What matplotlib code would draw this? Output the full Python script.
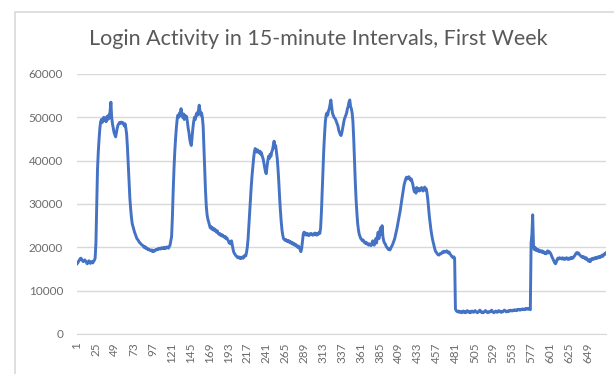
import numpy as np
import matplotlib.pyplot as plt
from matplotlib.patches import Rectangle

plt.rcParams['font.family'] = ["Lato", "DejaVu Sans"]

# logins per 15-minute interval, one list per day (96 intervals each)
day1 = [16200, 16400, 16800, 17000, 17400, 17500, 17200, 16900, 16700, 17000, 17100, 16800,
        16500, 16200, 16600, 16900, 16500, 16300, 16700, 16600, 16400, 16800, 17000, 17500,
        21000, 30000, 38000, 42000, 45000, 47500, 49000, 49500, 48800, 49600, 50000, 49200,
        49800, 49000, 50200, 49500, 50500, 49800, 51500, 53500, 50000, 48500, 47500, 46500,
        46000, 45500, 46500, 47500, 48200, 48500, 48800, 48600, 48900, 48700, 48800, 48500,
        48000, 48500, 47500, 46000, 43000, 39000, 35000, 31500, 29000, 27000, 25500, 24800,
        24000, 23500, 23000, 22500, 22000, 21800, 21500, 21200, 21000, 20800, 20600, 20500,
        20300, 20000, 20200, 19800, 19900, 19600, 19700, 19400, 19500, 19300, 19200, 19400]
day2 = [19000, 19200, 19100, 19300, 19500, 19400, 19600, 19500, 19800, 19700, 19600, 19900,
        19700, 19800, 20000, 19700, 19900, 19800, 20100, 20000, 19800, 20200, 20500, 21500,
        22500, 27000, 33000, 38000, 42000, 45000, 47500, 49500, 50500, 50000, 51000, 50500,
        52000, 50500, 50000, 50800, 49500, 50500, 49800, 50200, 49000, 47500, 46500, 45000,
        44000, 43500, 45500, 47500, 49000, 50000, 49500, 50500, 51000, 50500, 51500, 52800,
        51500, 50500, 51000, 50000, 48000, 43000, 38000, 33000, 29500, 27500, 26500, 25800,
        25000, 24500, 24800, 24200, 24500, 24000, 24300, 23800, 24000, 23500, 23800, 23300,
        23000, 23200, 22800, 23000, 22600, 22800, 22500, 22300, 22500, 22000, 22200, 21800]
day3 = [21500, 21000, 21200, 20800, 21500, 20500, 19500, 18800, 18500, 18200, 18000, 17800,
        17600, 17800, 17500, 17700, 17400, 17600, 17800, 17500, 17900, 18200, 18000, 18800,
        20000, 22000, 25000, 28000, 31000, 34000, 36500, 38500, 40500, 42000, 42800, 42500,
        42000, 42500, 42000, 41800, 42200, 41500, 41800, 41000, 40500, 39500, 38500, 37500,
        37000, 38500, 40000, 41000, 40500, 41500, 41000, 42000, 42500, 43500, 44500, 43000,
        43500, 42000, 40500, 38000, 35000, 31500, 28500, 26000, 24000, 22800, 22000, 21800,
        21600, 21800, 21500, 21300, 21600, 21200, 21400, 21000, 21200, 20800, 21000, 20600,
        20800, 20400, 20600, 20200, 20000, 20300, 19800, 19500, 19000, 19800, 21500, 23000]
day4 = [23500, 23000, 23300, 22800, 23200, 23000, 22700, 23100, 22900, 23200, 23000, 22800,
        23100, 22900, 23300, 23000, 22800, 23200, 23000, 23400, 23200, 24500, 28000, 33000,
        38000, 42500, 46000, 49000, 50500, 51000, 50500, 51500, 52000, 53000, 54000, 52500,
        51000, 50500, 50000, 49800, 49500, 49000, 48500, 48000, 47000, 46500, 46000, 45800,
        46500, 47500, 48500, 49500, 50000, 50500, 51000, 52000, 52500, 53500, 54000, 52500,
        52000, 51000, 49000, 45000, 40000, 35000, 31000, 28000, 25500, 24000, 23000, 22500,
        22000, 21800, 21500, 21700, 21300, 21000, 21200, 20800, 21000, 20700, 20500, 20800,
        20600, 20400, 20800, 21500, 21000, 20500, 21200, 22000, 21000, 22500, 23500, 22000]
day5 = [23500, 24500, 23000, 25000, 22500, 21500, 21000, 20800, 20300, 20000, 19800, 19500,
        19600, 19400, 19800, 20200, 20500, 21000, 21500, 22000, 22800, 23500, 24500, 25500,
        26500, 27500, 28500, 29800, 31000, 32200, 33500, 34500, 35200, 35800, 36200, 35800,
        36000, 36300, 35800, 35500, 35800, 35200, 34500, 33500, 32800, 33500, 32500, 33800,
        33200, 33600, 33000, 33500, 33200, 33800, 33400, 33000, 33600, 33900, 33200, 33500,
        32500, 31000, 29000, 27000, 25500, 24000, 22800, 21800, 21000, 20200, 19500, 19000,
        18800, 18500, 18300, 18200, 18400, 18600, 18500, 18800, 19000, 18800, 19100, 19000,
        18900, 19200, 19000, 18700, 18900, 18500, 18300, 18000, 17800, 17600, 17800, 17500]
day6 = [5800, 5400, 5200, 5100, 5300, 5000, 5200, 5100, 4900, 5200, 5300, 5000,
        5100, 4900, 5200, 5400, 5100, 5000, 5200, 4900, 5100, 5300, 5100, 5000,
        5200, 5400, 5200, 5000, 4900, 5100, 5300, 5500, 5200, 5000, 5100, 4900,
        5000, 5200, 5400, 5300, 5100, 4900, 5000, 5200, 5100, 5300, 5500, 5200,
        5000, 4900, 5100, 5300, 5200, 5000, 5200, 5400, 5300, 5100, 5000, 5200,
        5100, 5300, 5500, 5400, 5200, 5100, 5300, 5200, 5400, 5300, 5500, 5400,
        5300, 5500, 5400, 5600, 5500, 5400, 5600, 5500, 5700, 5600, 5500, 5700,
        5600, 5800, 5700, 5600, 5800, 5700, 5900, 5800, 5700, 5900, 5800, 5600]
day7 = [21000, 23000, 27500, 20500, 19500, 20000, 19300, 19600, 19200, 19500, 19000, 19300,
        19100, 18900, 19200, 18800, 19000, 18600, 18800, 18500, 18900, 19200, 18700, 19000,
        18800, 18500, 18000, 17600, 17200, 16800, 16400, 16200, 16600, 17200, 17500, 17300,
        17600, 17400, 17500, 17300, 17600, 17400, 17200, 17500, 17300, 17600, 17400, 17200,
        17500, 17300, 17600, 17400, 17700, 17500, 17800, 18000, 18300, 18600, 18800, 18500,
        18700, 18400, 18200, 18000, 17800, 17900, 17600, 17800, 17500, 17300, 17600, 17200,
        17000, 16800, 17200, 16700, 17100, 17400, 17200, 17500, 17300, 17600, 17400, 17700,
        17500, 17800, 17600, 17900, 17700, 18000, 18200, 17900, 18300, 18500, 18400, 18700]

logins = day1 + day2 + day3 + day4 + day5 + day6 + day7
intervals = np.arange(1, len(logins) + 1)
tick_labels = list(range(1, len(logins), 24))
y_ticks = [0, 10000, 20000, 30000, 40000, 50000, 60000]

grey_text = "#6b6b6b"

fig = plt.figure(figsize=(6.14, 3.74), dpi=100)
# chart border (cropped at right and bottom in the reference)
fig.patches.append(Rectangle((15 / 614, -0.1), 1.0, 1.1 - 12 / 374, transform=fig.transFigure,
                             facecolor="none", edgecolor="#d9d9d9", lw=1.2))

ax = fig.add_axes([77 / 614, 1 - 334 / 374, 529 / 614, 260 / 374])
ax.plot(intervals, logins, color="#4472C4", lw=2.1, solid_joinstyle="round")

ax.set_xlim(1, len(logins))
ax.set_ylim(0, 60000)
ax.set_yticks(y_ticks)
ax.set_yticklabels([str(v) for v in y_ticks])
ax.set_xticks(tick_labels)
ax.set_xticklabels([str(v) for v in tick_labels], rotation=90)
ax.tick_params(axis="y", length=0, pad=10, labelsize=8.5, labelcolor=grey_text)
ax.tick_params(axis="x", length=0, pad=6, labelsize=8.5, labelcolor=grey_text)
ax.grid(axis="y", color="#d9d9d9", lw=1)
ax.set_axisbelow(True)
for s in ["top", "right", "left"]:
    ax.spines[s].set_visible(False)
ax.spines["bottom"].set_color("#d9d9d9")

fig.text(318 / 614, 1 - 45 / 374, "Login Activity in 15-minute Intervals, First Week",
         ha="center", va="baseline", fontsize=15.5, color="#595959")

fig.savefig("out.png", dpi=100)
